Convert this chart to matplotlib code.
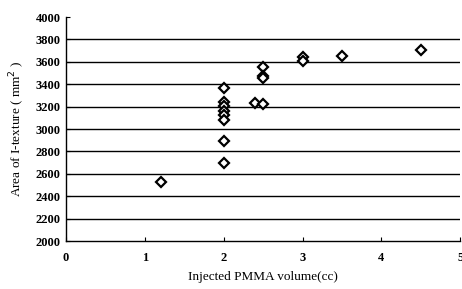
import matplotlib.pyplot as plt

# data
volume_cc = [1.2, 2.0, 2.0, 2.0, 2.0, 2.0, 2.0, 2.0, 2.0,
             2.4, 2.5, 2.5, 2.5, 2.5, 3.0, 3.0, 3.5, 4.5]
area_mm2 = [2530, 3365, 3245, 3205, 3165, 3125, 3085, 2890, 2700,
            3235, 3225, 3555, 3470, 3455, 3640, 3605, 3650, 3710]

x_ticks = [0, 1, 2, 3, 4, 5]
y_ticks = list(range(2000, 4001, 200))

plt.rcParams["font.family"] = ["Liberation Serif", "DejaVu Serif"]

fig = plt.figure(figsize=(4.62, 2.89), dpi=100)
ax = fig.add_axes([0.143, 0.166, 0.853, 0.775])

for y in y_ticks[1:-1]:
    ax.axhline(y, color="black", lw=1.0, zorder=1)

ax.plot(volume_cc, area_mm2, ls="none", marker="D", ms=4.6, mfc="white",
        mec="black", mew=1.6, zorder=3)

ax.set_xlim(0, 5)
ax.set_ylim(2000, 4000)
ax.set_xticks(x_ticks)
ax.set_yticks(y_ticks)
ax.tick_params(axis="both", direction="in", length=3, width=0.8,
               labelsize=9)
for lab in ax.get_xticklabels() + ax.get_yticklabels():
    lab.set_fontweight("bold")
ax.tick_params(axis="x", pad=8)
ax.tick_params(axis="y", pad=4)

for side in ["top", "right"]:
    ax.spines[side].set_visible(False)
ax.spines["left"].set_linewidth(1.0)
ax.spines["bottom"].set_linewidth(1.0)

ax.set_xlabel("Injected PMMA volume(cc)", fontsize=9.5, labelpad=5)
ax.set_ylabel("Area of I-texture ( mm$^2$ )", fontsize=9.5, labelpad=6)

fig.savefig("out.png", dpi=100)
